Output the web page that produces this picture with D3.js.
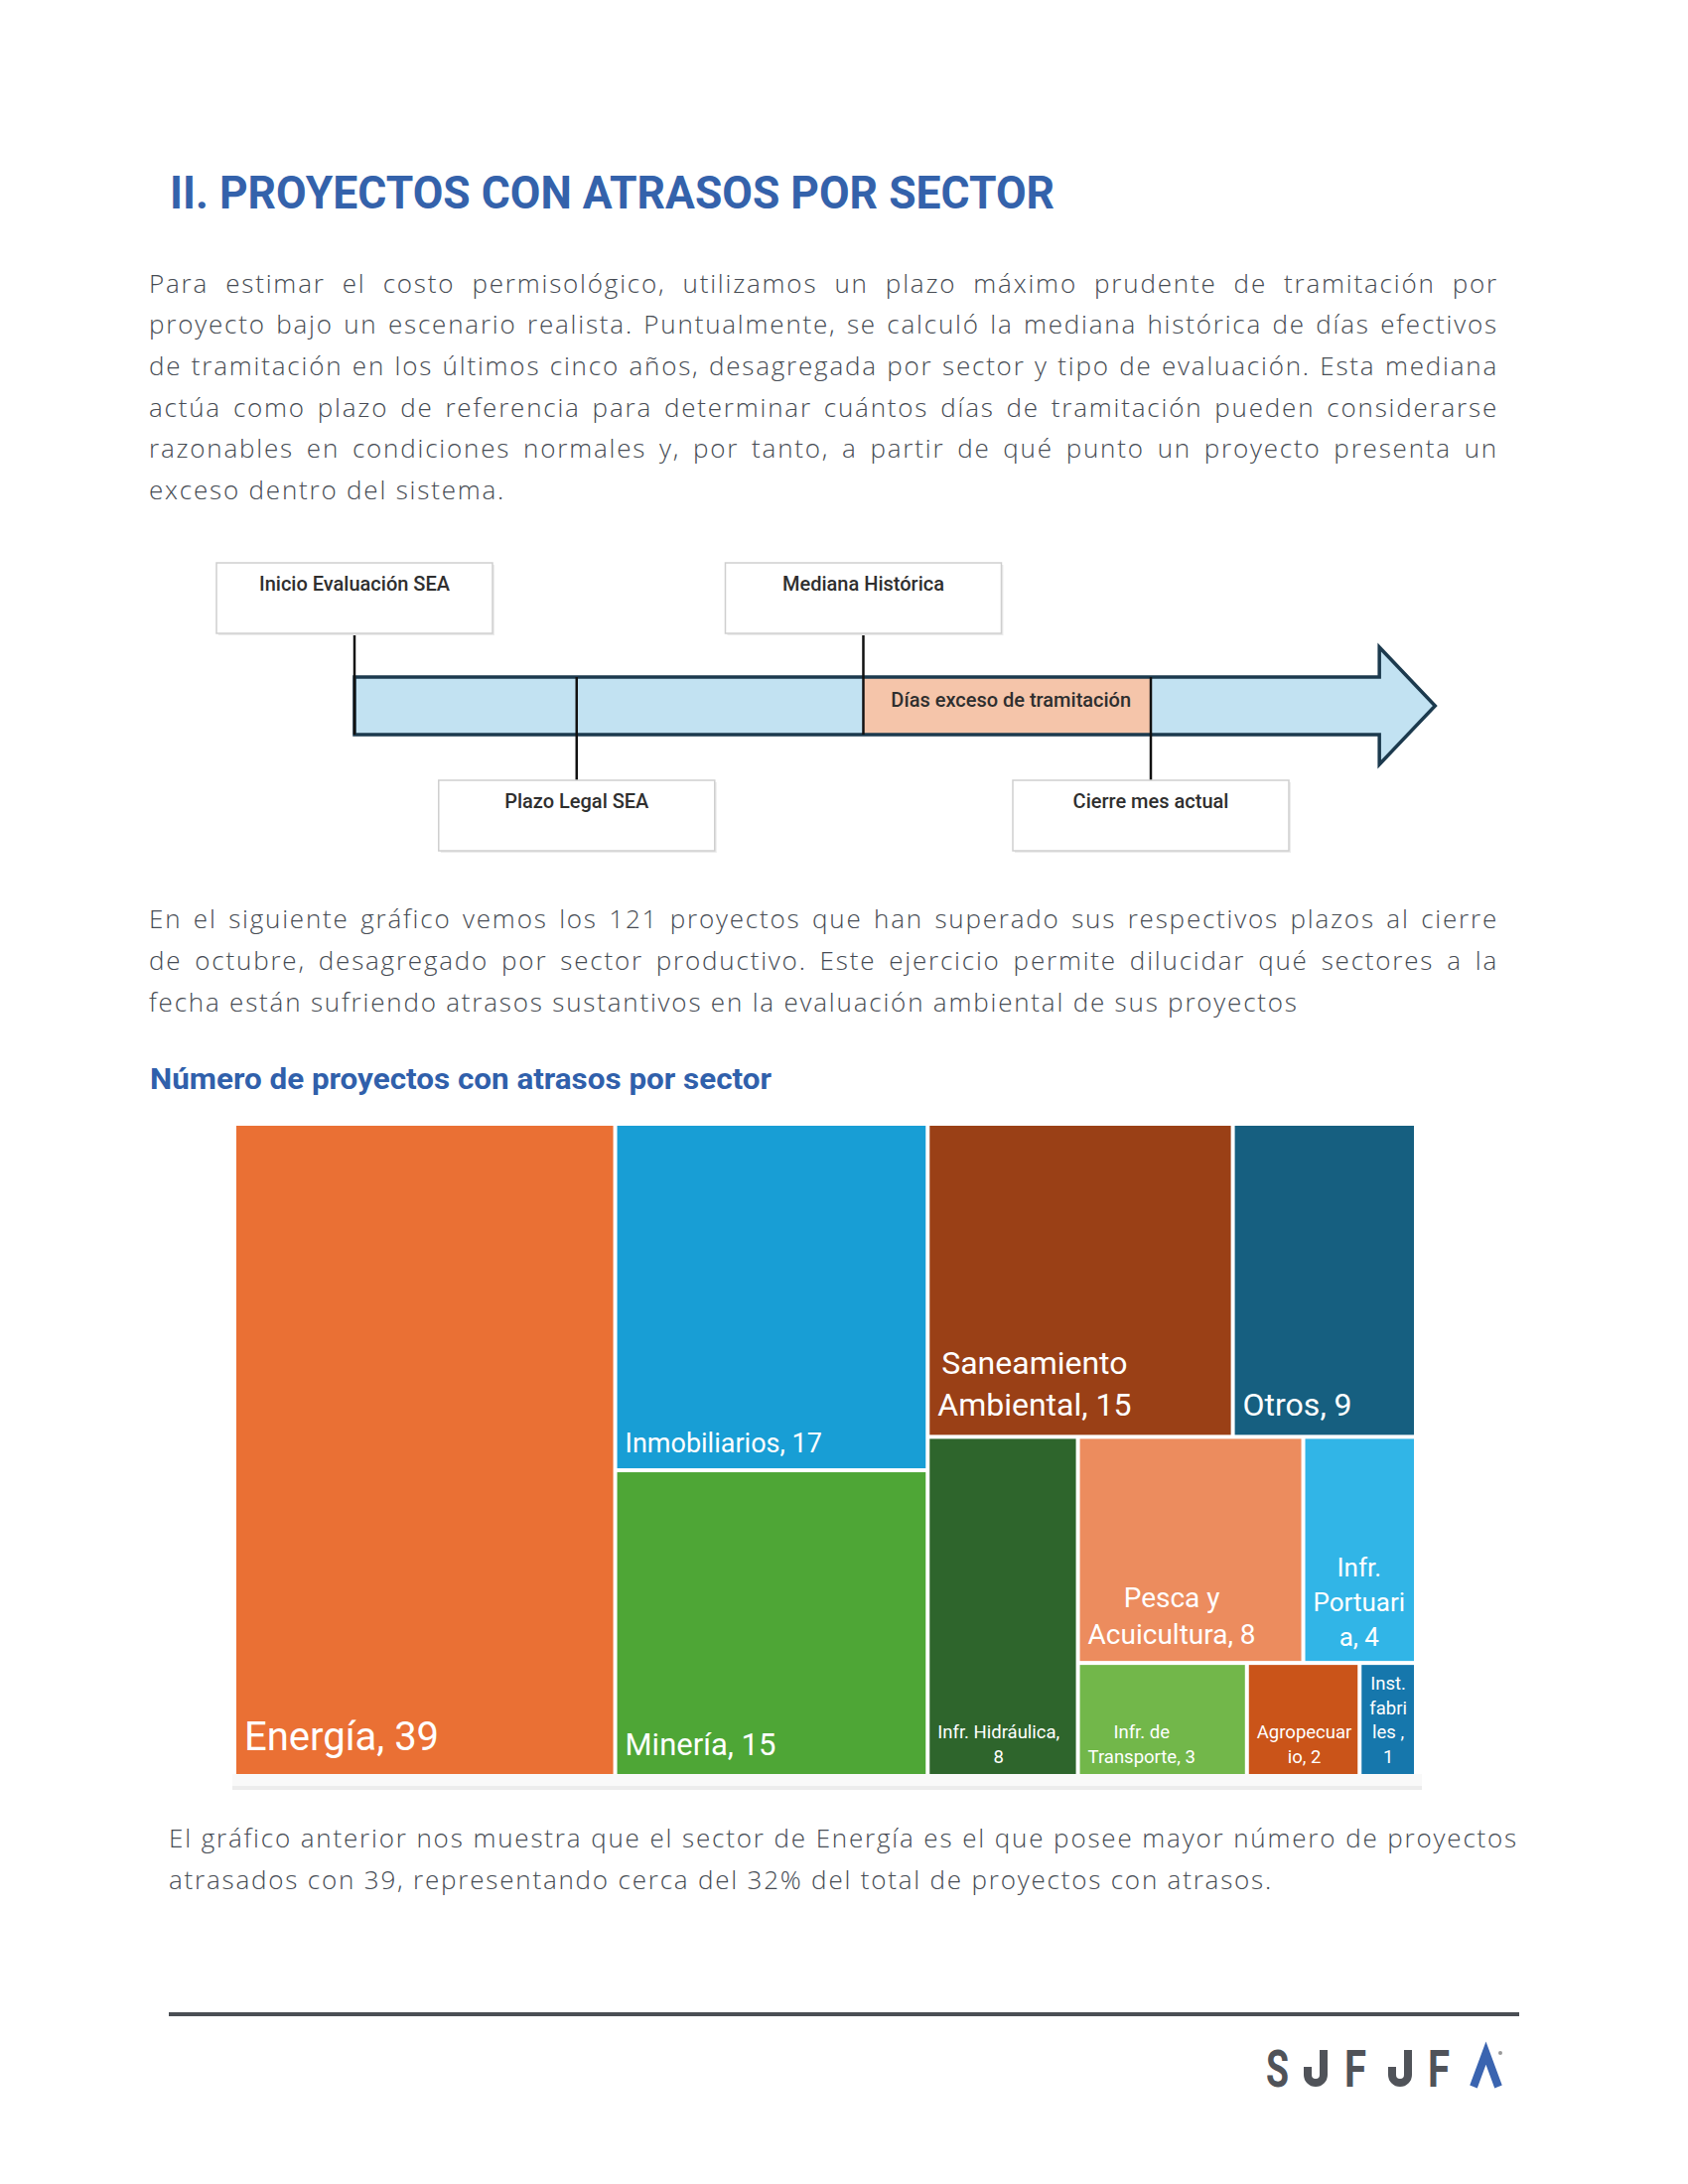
<!DOCTYPE html>
<html lang="es">
<head>
<meta charset="utf-8">
<title>Proyectos con atrasos por sector</title>
<script src="https://cdn.jsdelivr.net/npm/d3@7.9.0/dist/d3.min.js"></script>
<style>
  html, body { margin: 0; padding: 0; background: #fff; }
  svg { display: block; }
  .title { font-family: 'Roboto', 'Open Sans', sans-serif; font-weight: 700; font-size: 46px; fill: #3462ab; }
  .subtitle { font-family: 'Roboto', 'Open Sans', sans-serif; font-weight: 700; font-size: 30px; fill: #3060ab; }
  .body-text { font-family: 'Open Sans', 'Lato', sans-serif; font-weight: 300; font-size: 26px; letter-spacing: 1.8px; fill: #464b53; }
  .diag-label { font-family: 'Roboto', sans-serif; font-weight: 500; font-size: 20px; fill: #2f2f2f; text-anchor: middle; }
  .cell-label { font-family: 'Roboto', sans-serif; font-weight: 400; fill: #fff; }
</style>
</head>
<body>
<svg id="page" width="1700" height="2200"></svg>
<script>
// ---- treemap data ----
const sectors = [
  'Energía', 'Inmobiliarios', 'Minería', 'Saneamiento Ambiental', 'Otros',
  'Infr. Hidráulica', 'Pesca y Acuicultura', 'Infr. Portuaria',
  'Infr. de Transporte', 'Agropecuario', 'Inst. fabriles',
];
const projects = [39, 17, 15, 15, 9, 8, 8, 4, 3, 2, 1];

// label text as wrapped in the chart ({v} = value)
const labelWrap = [
  'Energía, {v}', 'Inmobiliarios, {v}', 'Minería, {v}', 'Saneamiento|Ambiental, {v}',
  'Otros, {v}', 'Infr. Hidráulica,|{v}', 'Pesca y|Acuicultura, {v}', 'Infr.|Portuari|a, {v}',
  'Infr. de|Transporte, {v}', 'Agropecuar|io, {v}', 'Inst.|fabri|les ,|{v}',
];

// styles, by sector index
const sectorColors = [
  '#ea7034', '#189ed5', '#4ea636', '#9a4016', '#165f80',
  '#2e652c', '#ec8c5e', '#31b5e7', '#72b74a', '#ca5419', '#1677ac',
];
const labelSizes = [40, 27, 31, 32, 32, 18.5, 28, 26, 18.5, 18.5, 18.5];

// how Excel nested the rectangles (sector indices), alternating x / y splits
const tileOrder = [0, [1, 2], [[3, 4], [5, [[6, 7], [8, 9, 10]]]]];

// ---- timeline diagram ----
const milestones = [
  { label: 'Inicio Evaluación SEA', t: 0, side: 'top' },
  { label: 'Plazo Legal SEA', t: 0.279, side: 'bottom' },
  { label: 'Mediana Histórica', t: 0.639, side: 'top' },
  { label: 'Cierre mes actual', t: 1, side: 'bottom' },
];
const excessLabel = 'Días exceso de tramitación';

// ---- texts ----
const para1 = [
  'Para estimar el costo permisológico, utilizamos un plazo máximo prudente de tramitación por',
  'proyecto bajo un escenario realista. Puntualmente, se calculó la mediana histórica de días efectivos',
  'de tramitación en los últimos cinco años, desagregada por sector y tipo de evaluación. Esta mediana',
  'actúa como plazo de referencia para determinar cuántos días de tramitación pueden considerarse',
  'razonables en condiciones normales y, por tanto, a partir de qué punto un proyecto presenta un',
  'exceso dentro del sistema.',
];
const para2 = [
  'En el siguiente gráfico vemos los 121 proyectos que han superado sus respectivos plazos al cierre',
  'de octubre, desagregado por sector productivo. Este ejercicio permite dilucidar qué sectores a la',
  'fecha están sufriendo atrasos sustantivos en la evaluación ambiental de sus proyectos',
];
const para3 = [
  'El gráfico anterior nos muestra que el sector de Energía es el que posee mayor número de proyectos',
  'atrasados con 39, representando cerca del 32% del total de proyectos con atrasos.',
];

const svg = d3.select('#page');
svg.append('rect').attr('width', 1700).attr('height', 2200).attr('fill', '#fff');

// justified paragraph: every line but the last is stretched to full width
function paragraph(lines, x, y0, width, lead) {
  const g = svg.append('g');
  lines.forEach((line, i) => {
    const t = g.append('text')
      .attr('class', 'body-text')
      .attr('x', x)
      .attr('y', y0 + i * lead)
      .text(line);
    if (i < lines.length - 1) {
      const gaps = line.split(' ').length - 1;
      let ws = (width - t.node().getBBox().width) / gaps;
      t.style('word-spacing', `${ws}px`);
      ws += (width - t.node().getBBox().width) / gaps;
      t.style('word-spacing', `${ws}px`);
    }
  });
}

svg.append('text')
  .attr('class', 'title')
  .attr('x', 171).attr('y', 210)
  .attr('textLength', 891).attr('lengthAdjust', 'spacingAndGlyphs')
  .text('II. PROYECTOS CON ATRASOS POR SECTOR');

paragraph(para1, 150, 294.5, 1359, 41.7);

// ---- diagram ----
const tx = d3.scaleLinear().domain([0, 1]).range([357, 1159]);
const bodyTop = 682, bodyBottom = 740, headTop = 652, headBottom = 770;
const headBase = tx(1.287), tip = tx(1.357);
const boxW = 278, boxH = 71, topBoxY = 567, bottomBoxY = 786;

const diag = svg.append('g');
const arrowPts = [
  [tx(0), bodyTop], [headBase, bodyTop], [headBase, headTop], [tip, (bodyTop + bodyBottom) / 2],
  [headBase, headBottom], [headBase, bodyBottom], [tx(0), bodyBottom],
];
diag.append('polygon')
  .attr('points', arrowPts.map((p) => p.join(',')).join(' '))
  .attr('fill', '#c2e2f2');

const med = milestones.find((m) => m.label === 'Mediana Histórica');
const cierre = milestones.find((m) => m.label === 'Cierre mes actual');
diag.append('rect')
  .attr('x', tx(med.t)).attr('y', bodyTop)
  .attr('width', tx(cierre.t) - tx(med.t)).attr('height', bodyBottom - bodyTop)
  .attr('fill', '#f5c5aa');
diag.append('text')
  .attr('class', 'diag-label')
  .attr('x', (tx(med.t) + tx(cierre.t)) / 2 + 4).attr('y', 712)
  .text(excessLabel);

diag.append('polygon')
  .attr('points', arrowPts.map((p) => p.join(',')).join(' '))
  .attr('fill', 'none')
  .attr('stroke', '#1c3a4e')
  .attr('stroke-width', 3.5)
  .attr('stroke-linejoin', 'miter');

const ms = diag.selectAll('g.milestone').data(milestones).join('g').attr('class', 'milestone');
ms.append('line')
  .attr('x1', (d) => tx(d.t)).attr('x2', (d) => tx(d.t))
  .attr('y1', (d) => (d.side === 'top' ? topBoxY + boxH : bodyTop))
  .attr('y2', (d) => (d.side === 'top' ? bodyBottom : bottomBoxY))
  .attr('stroke', '#111').attr('stroke-width', 2.5);
ms.append('rect')
  .attr('x', (d) => tx(d.t) - boxW / 2 + 2)
  .attr('y', (d) => (d.side === 'top' ? topBoxY : bottomBoxY) + 2)
  .attr('width', boxW).attr('height', boxH)
  .attr('fill', '#ececec');
ms.append('rect')
  .attr('x', (d) => tx(d.t) - boxW / 2)
  .attr('y', (d) => (d.side === 'top' ? topBoxY : bottomBoxY))
  .attr('width', boxW).attr('height', boxH)
  .attr('fill', '#fff').attr('stroke', '#cfcfcf').attr('stroke-width', 1.5);
ms.append('text')
  .attr('class', 'diag-label')
  .attr('x', (d) => tx(d.t))
  .attr('y', (d) => (d.side === 'top' ? topBoxY : bottomBoxY) + 28)
  .text((d) => d.label);

paragraph(para2, 150, 935, 1359, 42);

svg.append('text')
  .attr('class', 'subtitle')
  .attr('x', 151).attr('y', 1097)
  .attr('textLength', 626).attr('lengthAdjust', 'spacingAndGlyphs')
  .text('Número de proyectos con atrasos por sector');

// ---- treemap ----
const tmX = 238, tmY = 1134, tmW = 1186, tmH = 653;

function toNode(entry) {
  return Array.isArray(entry) ? { children: entry.map(toNode) } : { index: entry };
}
const root = d3.hierarchy(toNode(tileOrder))
  .sum((d) => (d.children ? 0 : projects[d.index]));

d3.treemap()
  .tile(d3.treemapSliceDice)
  .size([tmW, tmH])
  .paddingInner(4)(root);

// faint image edge under the chart
svg.append('rect').attr('x', 234).attr('y', tmY + tmH).attr('width', 1198).attr('height', 12).attr('fill', '#f9f9f9');
svg.append('rect').attr('x', 234).attr('y', tmY + tmH + 12).attr('width', 1198).attr('height', 4).attr('fill', '#ececec');

const tm = svg.append('g').attr('transform', `translate(${tmX},${tmY})`);
const cells = tm.selectAll('g.cell')
  .data(root.leaves())
  .join('g')
  .attr('class', 'cell');

cells.append('rect')
  .attr('x', (d) => d.x0).attr('y', (d) => d.y0)
  .attr('width', (d) => d.x1 - d.x0).attr('height', (d) => d.y1 - d.y0)
  .attr('fill', (d) => sectorColors[d.data.index]);

cells.append('title').text((d) => `${sectors[d.data.index]}: ${projects[d.data.index]}`);

cells.each(function (d) {
  const i = d.data.index;
  const fs = labelSizes[i];
  const lines = labelWrap[i].split('|').map((s) => s.replace('{v}', projects[i]));
  const lead = 1.33 * fs;
  const base = d.y1 - 0.6 * fs;
  const text = d3.select(this).append('text')
    .attr('class', 'cell-label')
    .attr('font-size', fs);
  const spans = lines.map((ln, k) => text.append('tspan')
    .attr('y', base - (lines.length - 1 - k) * lead)
    .text(ln));
  if (lines.length === 1) {
    spans[0].attr('x', d.x0 + 8);
  } else {
    const maxW = d3.max(spans, (s) => s.node().getComputedTextLength());
    const cx = Math.min(d.x0 + 8 + maxW / 2, d.x1 - 4 - maxW / 2);
    text.attr('text-anchor', 'middle');
    spans.forEach((s) => s.attr('x', cx));
  }
});

paragraph(para3, 170, 1861, 1359, 42);

// ---- footer ----
svg.append('line')
  .attr('x1', 170).attr('x2', 1530).attr('y1', 2029).attr('y2', 2029)
  .attr('stroke', '#4a4e54').attr('stroke-width', 4);

const logo = svg.append('g').attr('aria-label', 'SOFOFA');
const logoGray = '#505359';
const logoTop = 2065, logoBottom = 2102;
[['S', 1275, 23], ['F', 1354, 22], ['F', 1438, 22]].forEach(([ch, x, w]) => {
  logo.append('text')
    .attr('x', x).attr('y', logoBottom)
    .attr('font-family', 'Roboto, sans-serif').attr('font-weight', 700).attr('font-size', 52)
    .attr('textLength', w).attr('lengthAdjust', 'spacingAndGlyphs')
    .attr('fill', logoGray)
    .text(ch);
});
[1325, 1410].forEach((cx) => {
  const sw = 8, r = 8;
  const cy = logoBottom - sw / 2 - r;
  logo.append('path')
    .attr('d', `M${cx - r},${cy - 8} L${cx - r},${cy} A${r},${r} 0 0 0 ${cx + r},${cy} L${cx + r},${logoTop}`)
    .attr('fill', 'none').attr('stroke', logoGray).attr('stroke-width', sw);
});
logo.append('path')
  .attr('d', `M1484,${logoBottom} L1496.5,${logoTop + 3} L1509,${logoBottom}`)
  .attr('fill', 'none').attr('stroke', '#3a64b0').attr('stroke-width', 8).attr('stroke-linejoin', 'miter');
logo.append('circle').attr('cx', 1511).attr('cy', 2068).attr('r', 2).attr('fill', '#999');
</script>
</body>
</html>
